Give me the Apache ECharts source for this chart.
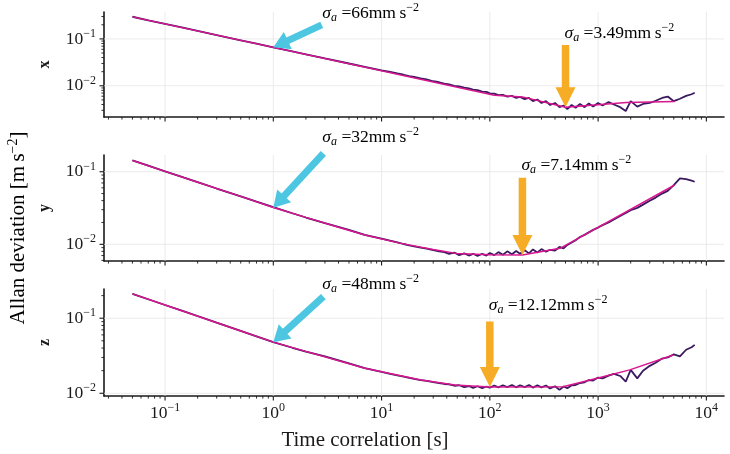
<!DOCTYPE html>
<html><head><meta charset="utf-8">
<script src="https://cdn.jsdelivr.net/npm/echarts@6/dist/echarts.min.js"></script>
<style>html,body{margin:0;padding:0;background:#fff}#c{width:730px;height:454px}</style>
</head><body><div id="c"></div>
<script>
// ---- data ----
const tau = [0.05,0.07,0.1,0.15,0.2,0.3,0.5,0.7,1,1.5,2,3,5,7,10,12,14,16,18,20,23,26,30,34,38,42,47,52,58,64,70,77,85,93,100,110,120,132,145,160,175,190,210,230,250,275,300,330,360,400,440,480,520,570,620,680,750,820,900,1000,1100,1250,1400,1600,1800,2000,2300,2600,3000,3400,3900,4400,5000,5700,6500,7300,7800];
const devX = [0.297,0.250,0.209,0.171,0.148,0.121,0.0935,0.0790,0.0662,0.0542,0.0470,0.0384,0.0299,0.0254,0.0214,0.0197,0.0183,0.0172,0.0161,0.0154,0.0144,0.0137,0.0125,0.0119,0.0111,0.0107,0.0100,0.0097,0.0091,0.0088,0.0083,0.0081,0.0075,0.0074,0.0069,0.0068,0.0063,0.0064,0.0059,0.0061,0.0055,0.0058,0.0052,0.0055,0.0047,0.0051,0.0043,0.0047,0.0039,0.0043,0.0035,0.0038,0.0032,0.0039,0.0034,0.0041,0.0035,0.0042,0.0036,0.0043,0.0038,0.0045,0.0040,0.0035,0.0029,0.0047,0.0036,0.0041,0.0043,0.0048,0.0055,0.0059,0.0047,0.0053,0.0061,0.0066,0.0071];
const devY = [0.143,0.121,0.1012,0.0827,0.0718,0.0587,0.0457,0.0387,0.0325,0.0268,0.0234,0.0196,0.0158,0.0135,0.0120,0.0112,0.0106,0.0101,0.0097,0.0094,0.0090,0.0087,0.0083,0.0080,0.0078,0.0074,0.0077,0.0071,0.0075,0.0070,0.0074,0.0069,0.0074,0.0070,0.0076,0.0071,0.0078,0.0072,0.0080,0.0073,0.0081,0.0074,0.0083,0.0075,0.0085,0.0077,0.0086,0.0079,0.0084,0.0082,0.0092,0.0088,0.0098,0.0106,0.0114,0.0126,0.0135,0.0146,0.0158,0.0170,0.0184,0.0200,0.0220,0.0245,0.0270,0.0296,0.0318,0.0352,0.0398,0.0440,0.0500,0.0545,0.0655,0.0812,0.0790,0.0755,0.0728];
const devZ = [0.211,0.179,0.150,0.123,0.107,0.0873,0.0678,0.0574,0.0481,0.0404,0.0360,0.0310,0.0250,0.0217,0.0193,0.0182,0.0173,0.0167,0.0161,0.0156,0.0150,0.0146,0.0141,0.0137,0.0133,0.0131,0.0126,0.0128,0.0121,0.0125,0.0118,0.0124,0.0117,0.0123,0.0119,0.0127,0.0120,0.0128,0.0121,0.0129,0.0120,0.0128,0.0121,0.0129,0.0119,0.0128,0.0120,0.0127,0.0116,0.0124,0.0111,0.0123,0.0117,0.0128,0.0129,0.0137,0.0140,0.0150,0.0148,0.0162,0.0158,0.0172,0.0181,0.0170,0.0143,0.0205,0.0158,0.0200,0.0232,0.0255,0.0290,0.0300,0.0330,0.0310,0.0380,0.0410,0.0441];
const fitXTau = [0.05,110,200,500,1830,5100];
const fitX = [0.295,0.0063,0.0058,0.0035,0.0044,0.0046];
const fitYTau = [0.05,0.1,0.2,0.5,1,2,4,7,15,30,49,100,200,445,5100];
const fitY = [0.143,0.1012,0.0718,0.0458,0.0322,0.0235,0.0172,0.0134,0.0103,0.0085,0.0075,0.0072,0.00713,0.0088,0.0656];
const fitZTau = [0.05,0.1,0.2,0.5,1,7,22.5,47.6,100,475,1000,1960,4940];
const fitZ = [0.211,0.150,0.106,0.0675,0.048,0.0216,0.0151,0.0129,0.0121,0.0122,0.0160,0.0205,0.0324];
const axisNames = ['x','y','z'];
// tick values (major)
const xMajorTicks = [0.1,1,10,100,1000,10000];
const yMajorTicks = [0.01,0.1];
// annotations: white-noise (cyan) and bias (orange)
const cyanTip = [[1,0.066],[1,0.032],[1,0.048]];
const cyanTail = [[2.8,0.199],[2.9,0.179],[2.9,0.194]];
const cyanText = [[2.9,0.357],[2.9,0.301],[2.9,0.286]];
const cyanLabel = ['66','32','48'];
const orangeTip = [[500,0.00349],[200,0.00714],[100,0.01212]];
const orangeTail = [[500,0.0745],[200,0.0827],[100,0.0901]];
const orangeText = [[500,0.134],[200,0.1237],[100,0.1504]];
const orangeLabel = ['3.49','7.14','12.12'];
// axis extents
const X_MIN = 0.0273, X_MAX = 14550;
const Y_MIN = [0.00216, 0.00589, 0.0092];
const Y_MAX = [0.375, 0.17, 0.245];

// ---- styling / layout ----
const F = '"Liberation Serif", "DejaVu Serif", serif';
const INK = '#1a1a1a';
const GRIDC = '#e6e6e6';
const PURPLE = '#3a1a5e', MAGENTA = '#d8168f', CYAN = '#4dc6e2', ORANGE = '#f6ad25';
const gridTops = [12, 155, 289], gridHeights = [105, 106, 107];

const powRich = {
  b: {fontFamily: F, fontSize: 17.5, color: INK, lineHeight: 22},
  e: {fontFamily: F, fontSize: 12, color: INK, verticalAlign: 'top', lineHeight: 12}
};
function fmtPow(v) {
  const e = Math.log10(v), r = Math.round(e);
  if (Math.abs(e - r) > 1e-6) return '';
  return '{b|10}{e|' + (r < 0 ? '\u2212' + (-r) : r) + '}';
}
function pairs(xs, ys) { return xs.map((x, i) => [x, ys[i]]); }
function minorVals(lo, hi) {
  const out = [];
  for (let d = -4; d <= 5; d++) for (let k = 2; k <= 9; k++) {
    const v = k * Math.pow(10, d);
    if (v > lo && v < hi) out.push(v);
  }
  return out;
}
function arrowPoly(tail, tip, sw, hw, hl) {
  const dx = tip[0] - tail[0], dy = tip[1] - tail[1], L = Math.hypot(dx, dy);
  const ux = dx / L, uy = dy / L, nx = -uy, ny = ux;
  const bx = tip[0] - ux * hl, by = tip[1] - uy * hl;
  return [[tail[0] + nx * sw / 2, tail[1] + ny * sw / 2], [bx + nx * sw / 2, by + ny * sw / 2],
          [bx + nx * hw / 2, by + ny * hw / 2], [tip[0], tip[1]], [bx - nx * hw / 2, by - ny * hw / 2],
          [bx - nx * sw / 2, by - ny * sw / 2], [tail[0] - nx * sw / 2, tail[1] - ny * sw / 2]];
}
const annRich = {
  s: {fontFamily: F, fontSize: 17.5, fontStyle: 'italic', color: INK, lineHeight: 22},
  a: {fontFamily: F, fontSize: 12, fontStyle: 'italic', color: INK, verticalAlign: 'bottom', lineHeight: 13},
  n: {fontFamily: F, fontSize: 17.5, color: INK, lineHeight: 22},
  p: {fontFamily: F, fontSize: 12, color: INK, verticalAlign: 'top', lineHeight: 12}
};
function annText(lbl) { return '{s|\u03c3}{a|a}{n| =' + lbl + 'mm\u2009s}{p|\u22122}'; }

const meas = [devX, devY, devZ];
const fits = [pairs(fitXTau, fitX), pairs(fitYTau, fitY), pairs(fitZTau, fitZ)];

function tickSeries(i, vals, dir, len, width, zz) {
  // dir 'x': ticks under x axis; 'y': ticks left of y axis; 'gx'/'gy': grid lines
  let data;
  if (dir === 'x' || dir === 'gx') data = vals.map(v => [v, Y_MIN[i]]);
  else data = vals.map(v => [X_MIN, v]);
  return {
    type: 'custom', xAxisIndex: i, yAxisIndex: i, clip: false, silent: true, animation: false, z: zz,
    data,
    renderItem: (p, api) => {
      const c = api.coord([api.value(0), api.value(1)]);
      const cs = p.coordSys;
      let shape;
      if (dir === 'x') shape = {x1: c[0], y1: c[1], x2: c[0], y2: c[1] + len};
      else if (dir === 'y') shape = {x1: c[0], y1: c[1], x2: c[0] - len, y2: c[1]};
      else if (dir === 'gx') shape = {x1: c[0], y1: cs.y, x2: c[0], y2: cs.y + cs.height};
      else shape = {x1: cs.x, y1: c[1], x2: cs.x + cs.width, y2: c[1]};
      return {type: 'line', shape, style: {stroke: (dir[0] === 'g') ? GRIDC : INK, lineWidth: width}};
    }
  };
}

const grid = [], xAxis = [], yAxis = [], series = [];
for (let i = 0; i < 3; i++) {
  grid.push({left: 104, right: 6, top: gridTops[i], height: gridHeights[i]});
  xAxis.push({
    type: 'log', logBase: 10, gridIndex: i, min: X_MIN, max: X_MAX,
    axisLine: {show: true, onZero: false, lineStyle: {color: INK, width: 1.6}, z: 20},
    axisTick: {show: false},
    axisLabel: {show: i === 2, margin: 6, formatter: fmtPow, rich: powRich, showMinLabel: false, showMaxLabel: false},
    splitLine: {show: false}
  });
  yAxis.push({
    type: 'log', logBase: 10, gridIndex: i, min: Y_MIN[i], max: Y_MAX[i],
    name: axisNames[i], nameLocation: 'middle', nameGap: 51, nameRotate: 90,
    nameTextStyle: {fontFamily: F, fontWeight: 'bold', fontSize: 16, color: INK},
    axisLine: {show: true, onZero: false, lineStyle: {color: INK, width: 1.6}},
    axisTick: {show: false},
    axisLabel: {margin: 8, formatter: fmtPow, rich: powRich, showMinLabel: false, showMaxLabel: false},
    splitLine: {show: false}
  });
  series.push(tickSeries(i, xMajorTicks, 'gx', 0, 0.8, 1));
  series.push(tickSeries(i, yMajorTicks, 'gy', 0, 0.8, 1));
  series.push({
    type: 'line', xAxisIndex: i, yAxisIndex: i, data: pairs(tau, meas[i]),
    symbol: 'none', lineStyle: {color: PURPLE, width: 1.8}, z: 3, animation: false
  });
  series.push({
    type: 'line', xAxisIndex: i, yAxisIndex: i, data: fits[i],
    symbol: 'none', lineStyle: {color: MAGENTA, width: 1.5}, z: 4, animation: false
  });
  series.push(tickSeries(i, xMajorTicks, 'x', 4.5, 1.1, 5));
  series.push(tickSeries(i, yMajorTicks, 'y', 4.5, 1.1, 5));
  series.push(tickSeries(i, minorVals(X_MIN, X_MAX), 'x', 2.6, 0.9, 5));
  series.push(tickSeries(i, minorVals(Y_MIN[i], Y_MAX[i]), 'y', 2.6, 0.9, 5));
  const annData = [
    [cyanTip[i][0], cyanTip[i][1], cyanTail[i][0], cyanTail[i][1], cyanText[i][0], cyanText[i][1], 0],
    [orangeTip[i][0], orangeTip[i][1], orangeTail[i][0], orangeTail[i][1], orangeText[i][0], orangeText[i][1], 1]
  ];
  const labels = [cyanLabel[i], orangeLabel[i]];
  series.push({
    type: 'custom', xAxisIndex: i, yAxisIndex: i, clip: false, silent: true, animation: false, z: 10,
    encode: {x: 0, y: 1},
    data: annData,
    renderItem: (p, api) => {
      const tip = api.coord([api.value(0), api.value(1)]);
      const tail = api.coord([api.value(2), api.value(3)]);
      const txt = api.coord([api.value(4), api.value(5)]);
      const isOrange = api.value(6) === 1;
      const pts = isOrange ? arrowPoly(tail, tip, 7.5, 20, 20) : arrowPoly(tail, tip, 7, 19, 16);
      return {type: 'group', children: [
        {type: 'polygon', shape: {points: pts}, style: {fill: isOrange ? ORANGE : CYAN}},
        {type: 'text', x: txt[0] - 1, y: txt[1], style: {text: annText(labels[p.dataIndex]), rich: annRich, align: 'left', verticalAlign: 'middle'}}
      ]};
    }
  });
}

const chart = echarts.init(document.getElementById('c'), null, {renderer: 'canvas'});
chart.setOption({
  animation: false, backgroundColor: '#fff',
  grid, xAxis, yAxis, series,
  graphic: [
    {type: 'text', x: 365, y: 440, style: {text: 'Time correlation [s]', fontFamily: F, fontSize: 21, fill: INK, align: 'center', verticalAlign: 'middle'}},
    {type: 'text', x: 18, y: 228, rotation: Math.PI / 2,
     style: {text: '{n|Allan deviation [m\u2009s}{p|\u22122}{n|]}', align: 'center', verticalAlign: 'middle',
       rich: {n: {fontFamily: F, fontSize: 21, color: INK, lineHeight: 24}, p: {fontFamily: F, fontSize: 14, color: INK, verticalAlign: 'top', lineHeight: 14}}}}
  ]
});
</script></body></html>
